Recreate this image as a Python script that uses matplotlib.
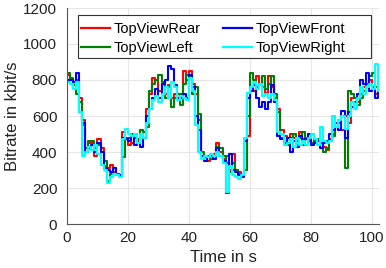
import numpy as np
import matplotlib
matplotlib.use("Agg")
import matplotlib.pyplot as plt
from matplotlib.patches import Rectangle

time_s = list(range(0, 103))

rear = [830, 800, 770, 800, 700, 580, 400, 450, 450, 380, 470, 420, 320, 310, 330, 290, 280, 270, 510, 480,
        440, 450, 480, 460, 500, 480, 640, 720, 810, 800, 740, 780, 720, 770, 700, 720, 700, 720, 850, 800,
        850, 780, 720, 580, 380, 370, 350, 380, 390, 450, 400, 360, 380, 300, 390, 300, 290, 270, 300, 490,
        760, 740, 820, 780, 760, 730, 820, 760, 700, 640, 520, 490, 450, 500, 480, 440, 510, 470, 480, 460,
        500, 460, 470, 450, 430, 410, 470, 500, 560, 580, 520, 600, 560, 700, 700, 680, 720, 760, 780, 800,
        750, 720, 770]

left = [840, 810, 770, 720, 680, 550, 420, 460, 460, 420, 440, 400, 350, 240, 280, 310, 280, 270, 370, 470,
        480, 500, 500, 470, 520, 510, 540, 740, 780, 800, 830, 790, 700, 760, 650, 700, 720, 660, 780, 830,
        820, 720, 760, 610, 400, 370, 380, 360, 380, 430, 420, 380, 340, 290, 340, 300, 280, 270, 300, 600,
        840, 800, 760, 780, 820, 750, 780, 820, 720, 620, 480, 450, 440, 480, 500, 460, 480, 510, 480, 470,
        450, 460, 470, 450, 400, 420, 460, 490, 540, 560, 600, 310, 740, 720, 700, 660, 700, 740, 760, 820,
        840, 760, 750]

front = [800, 800, 790, 840, 620, 560, 400, 420, 440, 400, 450, 400, 310, 300, 290, 310, 270, 270, 480, 470,
         460, 490, 440, 450, 430, 480, 600, 640, 700, 750, 700, 780, 800, 880, 860, 770, 700, 700, 720, 700,
         830, 760, 600, 520, 380, 350, 370, 380, 360, 420, 380, 350, 170, 390, 300, 290, 270, 260, 460, 700,
         740, 770, 700, 650, 680, 640, 680, 770, 680, 490, 470, 450, 480, 400, 460, 430, 490, 440, 470, 500,
         440, 450, 460, 420, 450, 460, 500, 520, 560, 520, 630, 480, 620, 650, 680, 720, 800, 780, 840, 740,
         760, 700, 740]

right = [790, 780, 750, 790, 620, 380, 400, 430, 410, 440, 390, 330, 300, 230, 260, 280, 270, 260, 470, 530,
         500, 490, 500, 450, 500, 480, 560, 640, 690, 710, 680, 720, 760, 700, 790, 760, 690, 710, 700, 690,
         810, 740, 550, 400, 360, 380, 370, 390, 380, 400, 380, 340, 180, 320, 270, 260, 250, 270, 480, 730,
         760, 790, 750, 780, 710, 720, 700, 720, 690, 510, 500, 440, 450, 470, 430, 480, 440, 460, 440, 480,
         500, 470, 440, 540, 460, 450, 460, 600, 540, 580, 600, 530, 600, 680, 640, 700, 760, 720, 760, 780,
         750, 890, 740]

series = [("TopViewRear", rear, "#ff0000"),
          ("TopViewLeft", left, "#008000"),
          ("TopViewFront", front, "#0000ff"),
          ("TopViewRight", right, "#00ffff")]

x_ticks = [0, 20, 40, 60, 80, 100]
y_ticks = [0, 200, 400, 600, 800, 1000, 1200]

plt.rcParams['font.family'] = ['Liberation Sans', 'DejaVu Sans']

fig = plt.figure(figsize=(3.86, 2.68), dpi=100)
ax = fig.add_axes([67/386, 44/268, 312/386, 216/268])

t = np.array(time_s + [time_s[-1] + 1])
handles = {}
for name, vals, col in series:
    v = np.array(vals + [vals[-1]])
    h, = ax.step(t, v, where='post', color=col, lw=1.5, label=name)
    handles[name] = h

ax.set_xlim(0, 102.3)
ax.set_ylim(0, 1200)
ax.set_xticks(x_ticks)
ax.set_yticks(y_ticks)
ax.grid(True, color='#e6e6e6', lw=0.8)
ax.set_axisbelow(True)
for s in ['top', 'right']:
    ax.spines[s].set_visible(False)
for s in ['left', 'bottom']:
    ax.spines[s].set_color('#555555')
    ax.spines[s].set_linewidth(0.8)
ax.tick_params(direction='in', length=0, labelsize=11, colors='#222222')
ax.tick_params(axis='y', pad=7)
ax.tick_params(axis='x', pad=5)
ax.set_xlabel("Time in s", fontsize=12, color='#222222', labelpad=4)
ax.set_ylabel("Bitrate in kbit/s", fontsize=12, color='#222222', labelpad=2)

# legend frame
frame = Rectangle((0.035, 0.769), 0.939, 0.199, transform=ax.transAxes,
                  facecolor='white', edgecolor='#333333', lw=0.8, zorder=4.5)
ax.add_patch(frame)

order = ["TopViewRear", "TopViewLeft", "TopViewFront", "TopViewRight"]
leg = ax.legend([handles[n] for n in order], order, ncol=2, loc='upper left',
                bbox_to_anchor=(0.045, 0.933),
                fontsize=10.5, frameon=False,
                handlelength=2.0, handletextpad=0.25, columnspacing=1.5,
                labelspacing=0.3, borderpad=0, borderaxespad=0)
leg.set_zorder(5)
for lh in leg.get_lines():
    lh.set_linewidth(1.6)

fig.savefig("out.png", dpi=100)
